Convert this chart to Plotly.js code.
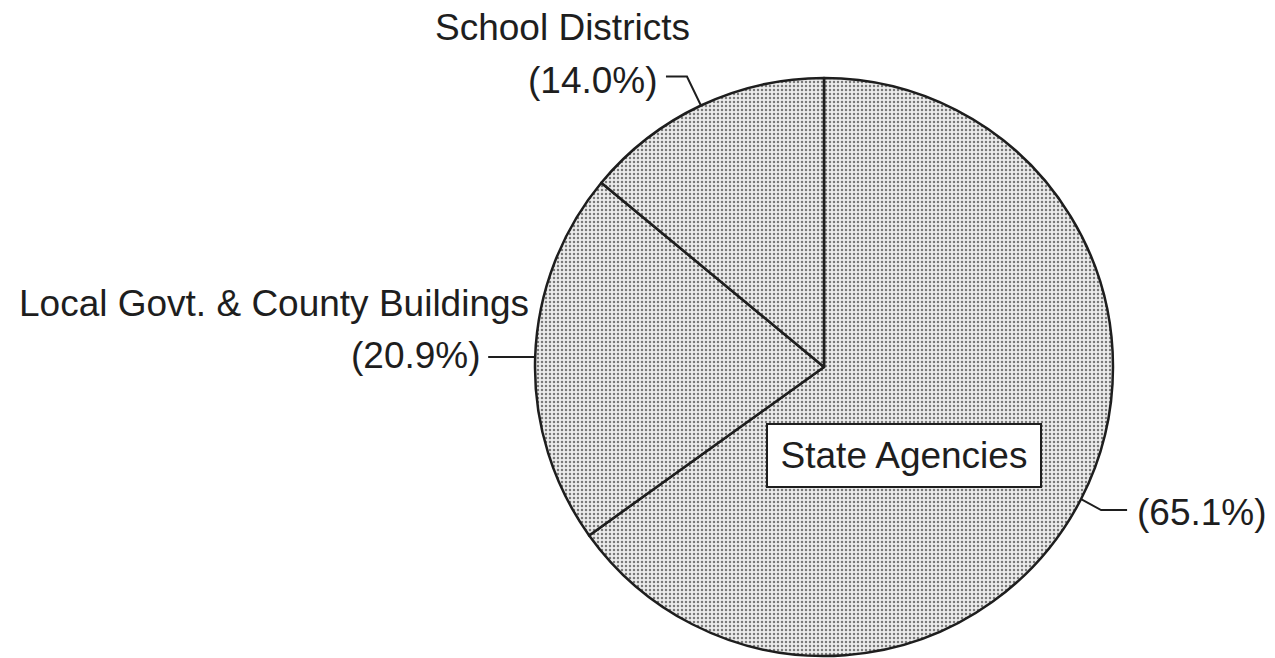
<!DOCTYPE html>
<html>
<head>
<meta charset="utf-8">
<script src="https://cdn.plot.ly/plotly-3.0.1.min.js"></script>
<style>html,body{margin:0;padding:0;background:#fff;}#chart{width:1275px;height:658px;}</style>
</head>
<body>
<div id="chart"></div>
<script>
// ---- data ----
const categories = ["State Agencies", "Local Govt. & County Buildings", "School Districts"];
const shares = [65.1, 20.9, 14.0];
const pctLabels = ["(65.1%)", "(20.9%)", "(14.0%)"];

// ---- geometry (pixels) ----
const W = 1275, H = 658;
const CX = 824, CY = 367, R = 289;
const px = x => x / W;
const py = y => 1 - y / H;
const FONT = "Liberation Sans, Arial, Helvetica, sans-serif";
const INK = "#1e1e1e";

// mid-angle of each slice (clockwise from 12 o'clock), computed from data
const total = shares.reduce((a, b) => a + b, 0);
let acc = 0;
const mids = shares.map(v => { const m = (acc + v / 2) / total * 2 * Math.PI; acc += v; return m; });
const edge = m => [CX + R * Math.sin(m), CY - R * Math.cos(m)];

const E0 = edge(mids[0]), E1 = edge(mids[1]), E2 = edge(mids[2]);

const shapes = [
  // State Agencies leader
  {type: "path", xref: "paper", yref: "paper",
   path: `M ${px(E0[0])} ${py(E0[1])} L ${px(E0[0] + 20)} ${py(E0[1] + 11)} L ${px(E0[0] + 46)} ${py(E0[1] + 11)}`,
   line: {color: INK, width: 2}},
  // Local Govt leader
  {type: "path", xref: "paper", yref: "paper",
   path: `M ${px(E1[0])} ${py(E1[1])} L ${px(E1[0] - 47)} ${py(E1[1])}`,
   line: {color: INK, width: 2}},
  // School Districts leader
  {type: "path", xref: "paper", yref: "paper",
   path: `M ${px(E2[0])} ${py(E2[1])} L ${px(E2[0] - 14)} ${py(E2[1] - 29)} L ${px(E2[0] - 35)} ${py(E2[1] - 29)}`,
   line: {color: INK, width: 2}}
];

const txt = (text, x, y, xanchor) => ({
  text: text, xref: "paper", yref: "paper", x: px(x), y: py(y),
  xanchor: xanchor, yanchor: "middle", showarrow: false,
  font: {family: FONT, size: 37, color: INK}
});

const annotations = [
  txt(categories[2], 562, 27, "center"),
  txt(pctLabels[2], E2[0] - 41, E2[1] - 25, "right"),
  txt(categories[1], 17, 303, "left"),
  txt(pctLabels[1], E1[0] - 52, E1[1] - 2, "right"),
  txt(pctLabels[0], E0[0] + 54, E0[1] + 13, "left"),
  Object.assign(txt(categories[0], 904, 455, "center"), {
    bgcolor: "#ffffff", bordercolor: INK, borderwidth: 2, borderpad: 1,
    width: 270, height: 59
  })
];

const trace = {
  type: "pie",
  labels: categories,
  values: shares,
  sort: false,
  direction: "clockwise",
  rotation: 0,
  textinfo: "none",
  hoverinfo: "label+percent",
  showlegend: false,
  domain: {x: [px(CX - R), px(CX + R)], y: [py(CY + R), py(CY - R)]},
  marker: {
    colors: ["#e6e6e6", "#e6e6e6", "#e6e6e6"],
    line: {color: INK, width: 2.5},
    pattern: {shape: ".", fgcolor: "#7a7a7a", bgcolor: "#ececec", size: 4, solidity: 0.3}
  }
};

const layout = {
  width: W, height: H,
  margin: {l: 0, r: 0, t: 0, b: 0},
  paper_bgcolor: "#ffffff",
  plot_bgcolor: "#ffffff",
  showlegend: false,
  shapes: shapes,
  annotations: annotations
};

Plotly.newPlot("chart", [trace], layout, {displayModeBar: false, staticPlot: true});
</script>
</body>
</html>
